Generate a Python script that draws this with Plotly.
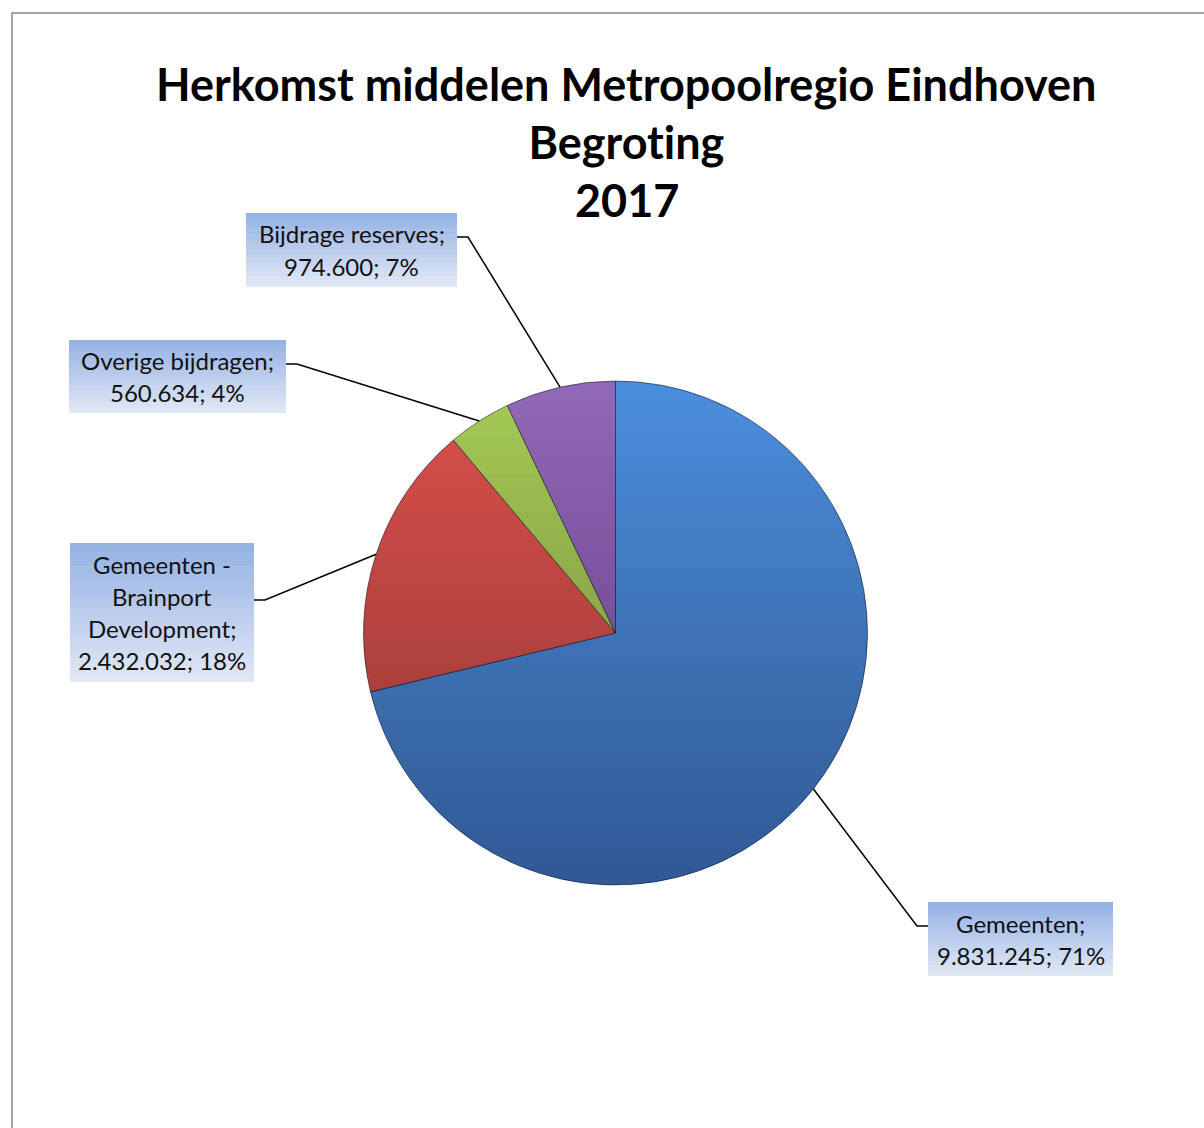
import math
import plotly.graph_objects as go

# ---------------- data ----------------
categories = ["Gemeenten", "Gemeenten - Brainport Development", "Overige bijdragen", "Bijdrage reserves"]
values = [9831245, 2432032, 560634, 974600]
title_lines = ["Herkomst middelen Metropoolregio Eindhoven", "Begroting", "2017"]

# ---------------- style / layout ----------------
W, H = 1204, 1128
slice_colors = ["#4B8DDD", "#DC504C", "#A4CB54", "#9068B8"]
CX, CY, R = 615.5, 633.0, 252.0          # pie centre / radius in px
FONT = "Lato"

# label boxes (px): x0, y0, x1, y1, which side the leader attaches, wrapped lines of label name
boxes = {
    "Gemeenten": dict(box=(928, 902, 1113, 976), side="left", wrap=["Gemeenten;"]),
    "Gemeenten - Brainport Development": dict(box=(70, 543, 254, 682), side="right",
                                              wrap=["Gemeenten -", "Brainport", "Development;"]),
    "Overige bijdragen": dict(box=(69, 340, 286, 413), side="right", wrap=["Overige bijdragen;"]),
    "Bijdrage reserves": dict(box=(246, 213, 457, 287), side="right", wrap=["Bijdrage reserves;"]),
}


def px(x):
    return x / W


def py(y):
    return 1 - y / H


def fmt_nl(v):
    return f"{v:,}".replace(",", ".")


total = sum(values)

fig = go.Figure()
fig.add_trace(go.Pie(
    labels=categories,
    values=values,
    sort=False,
    direction="clockwise",
    rotation=0,
    textinfo="none",
    hoverinfo="label+value+percent",
    showlegend=False,
    marker=dict(colors=slice_colors, line=dict(color="rgba(20,20,40,0.55)", width=1)),
    domain=dict(x=[px(CX - R), px(CX + R)], y=[py(CY + R), py(CY - R)]),
))

shapes = []

# vertical shading over the pie: stacked circular segments, darker toward the bottom
N = 26
for i in range(1, N + 1):
    yc = CY - R + i * (2 * R) / (N + 1)
    phi0 = math.asin((yc - CY) / R)
    pts = []
    steps = 60
    for k in range(steps + 1):
        phi = phi0 + (math.pi - 2 * phi0) * k / steps
        pts.append((CX + R * math.cos(phi), CY + R * math.sin(phi)))
    path = "M " + " L ".join(f"{px(x):.5f},{py(y):.5f}" for x, y in pts) + " Z"
    shapes.append(dict(type="path", path=path, xref="paper", yref="paper",
                       fillcolor="rgba(0,0,30,0.013)", line=dict(width=0), layer="above"))

# label boxes with vertical gradient + leader lines
top_c = (149, 178, 228)
bot_c = (224, 231, 245)
cum = 0
for cat, val in zip(categories, values):
    mid = (cum + val / 2) / total * 2 * math.pi
    cum += val
    ex, ey = CX + R * math.sin(mid), CY - R * math.cos(mid)
    spec = boxes[cat]
    x0, y0, x1, y1 = spec["box"]
    nb = 30
    for j in range(nb):
        t = j / (nb - 1)
        c = tuple(round(a + (b - a) * t) for a, b in zip(top_c, bot_c))
        ya = y0 + (y1 - y0) * j / nb
        yb = y0 + (y1 - y0) * (j + 1) / nb + 0.6
        shapes.append(dict(type="rect", xref="paper", yref="paper",
                           x0=px(x0), x1=px(x1), y0=py(min(yb, y1)), y1=py(ya),
                           fillcolor=f"rgb{c}", line=dict(width=0), layer="below"))
    # leader line
    if spec["side"] == "right":
        sx = x1
        stub = x1 + 11
    else:
        sx = x0
        stub = x0 - 11
    nlines = len(spec["wrap"]) + 1
    line_h = 32
    cyb = (y0 + y1) / 2
    sy = cyb if nlines > 2 else y0 + 24
    if cat == "Gemeenten - Brainport Development":
        sy = 600
    path = f"M {px(sx):.5f},{py(sy):.5f} L {px(stub):.5f},{py(sy):.5f} L {px(ex):.5f},{py(ey):.5f}"
    shapes.append(dict(type="path", path=path, xref="paper", yref="paper",
                       line=dict(color="black", width=1.5), layer="above"))
    # text
    pct = round(val / total * 100)
    lines = spec["wrap"][:]
    lines.append(f"{fmt_nl(val)}; {pct}%")
    start = cyb - (nlines - 1) * line_h / 2
    for k, ln in enumerate(lines):
        fig.add_annotation(text=ln, x=px((x0 + x1) / 2), y=py(start + k * line_h),
                           xref="paper", yref="paper", showarrow=False,
                           xanchor="center", yanchor="middle",
                           font=dict(family=FONT, size=24, color="#111111"))

# outer border
shapes.append(dict(type="rect", xref="paper", yref="paper",
                   x0=px(12), x1=px(W + 20), y0=py(H + 20), y1=py(13),
                   line=dict(color="#878787", width=1.5), fillcolor="rgba(0,0,0,0)", layer="below"))

# title
for k, (t, yy) in enumerate(zip(title_lines, [84, 142, 200])):
    fig.add_annotation(text=f"<b>{t}</b>", x=px(626.5), y=py(yy), xref="paper", yref="paper",
                       showarrow=False, xanchor="center", yanchor="middle",
                       font=dict(family=FONT, size=45, color="black"))

fig.update_layout(
    width=W, height=H,
    margin=dict(l=0, r=0, t=0, b=0),
    paper_bgcolor="white", plot_bgcolor="white",
    shapes=shapes,
    showlegend=False,
)

fig.write_html(
    "out.html",
    config={"displayModeBar": False},
    post_script=(
        "document.body.style.margin='0';document.body.style.overflow='hidden';"
        "var s=document.createElement('style');"
        "s.textContent='text{font-variant-ligatures:none;font-feature-settings:\"liga\" 0;}';"
        "document.head.appendChild(s);"
    ),
)
